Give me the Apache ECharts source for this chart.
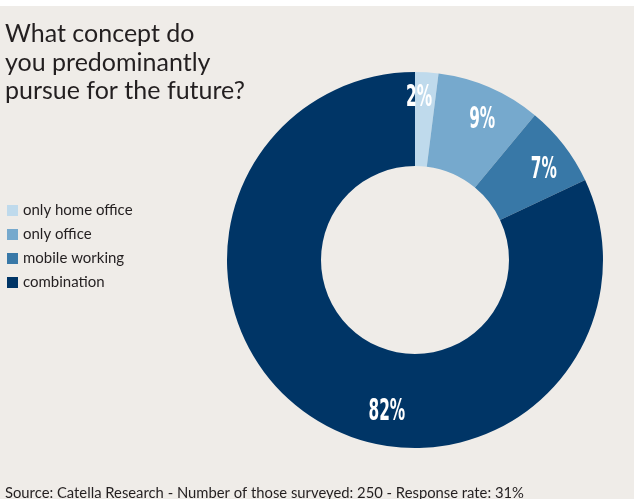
<!DOCTYPE html>
<html>
<head>
<meta charset="utf-8">
<style>
  html, body { margin: 0; padding: 0; background: #ffffff; }
  #chart { width: 634px; height: 499px; }
</style>
<script src="https://cdn.jsdelivr.net/npm/echarts@6/dist/echarts.min.js"></script>
</head>
<body>
<div id="chart"></div>
<script>
// Survey answers: preferred working concept
const categories = ['only home office', 'only office', 'mobile working', 'combination'];
const shares = [2, 9, 7, 82];
const sliceColors = ['#bfdaec', '#76a9cd', '#3878a7', '#003566'];

const titleText = 'What concept do\nyou predominantly\npursue for the future?';
const sourceText = 'Source: Catella Research - Number of those surveyed: 250 - Response rate: 31%';

// Nudges (px) for the value labels, relative to the ring's mid radius
const labelNudge = [[-5, -18], [10, -8], [15, -2], [49, 30]];
// Horizontal squeeze giving the value labels a condensed look
const labelSqueeze = 0.55;

const chart = echarts.init(document.getElementById('chart'), null, { renderer: 'canvas' });

chart.setOption({
  backgroundColor: '#ffffff',
  animation: false,
  graphic: [{
    type: 'rect',
    z: -10,
    silent: true,
    shape: { x: 0, y: 6, width: 634, height: 493 },
    style: { fill: '#efece8' }
  }],
  title: [{
    text: titleText,
    left: 5,
    top: 20,
    padding: 0,
    textStyle: {
      fontFamily: 'Lato, "Open Sans", sans-serif',
      fontWeight: 'normal',
      fontSize: 25,
      lineHeight: 28.5,
      color: '#231f20'
    }
  }, {
    text: sourceText,
    left: 5,
    top: 486,
    padding: 0,
    textStyle: {
      fontFamily: 'Lato, "Open Sans", sans-serif',
      fontWeight: 'normal',
      fontSize: 14.8,
      color: '#231f20'
    }
  }],
  legend: {
    orient: 'vertical',
    left: 7,
    top: 203,
    padding: 0,
    icon: 'rect',
    itemWidth: 11,
    itemHeight: 11,
    itemGap: 9,
    selectedMode: false,
    data: categories,
    textStyle: {
      fontFamily: 'Lato, "Open Sans", sans-serif',
      fontSize: 15,
      color: '#231f20'
    }
  },
  series: [{
    type: 'pie',
    center: [415, 260],
    radius: [94, 188],
    startAngle: 90,
    clockwise: true,
    avoidLabelOverlap: false,
    silent: true,
    itemStyle: { borderWidth: 0 },
    label: {
      show: true,
      position: 'inside',
      formatter: '{c}%',
      color: '#ffffff',
      fontFamily: '"DejaVu Sans Condensed", "DejaVu Sans", sans-serif',
      fontWeight: 'bold',
      fontSize: 31
    },
    labelLayout: function (params) {
      const n = labelNudge[params.dataIndex];
      // the horizontal offset lives inside the squeezed label, so undo the squeeze
      return { dx: n[0] / labelSqueeze, dy: n[1] };
    },
    data: categories.map(function (name, i) {
      return { name: name, value: shares[i], itemStyle: { color: sliceColors[i] } };
    })
  }]
});

// Squeeze each slice's value label horizontally
const pieData = chart.getModel().getSeriesByIndex(0).getData();
pieData.each(function (idx) {
  const el = pieData.getItemGraphicEl(idx);
  const label = el && el.getTextContent();
  if (label) {
    label.scaleX = labelSqueeze;
    label.markRedraw();
  }
});
chart.getZr().refreshImmediately();
</script>
</body>
</html>
